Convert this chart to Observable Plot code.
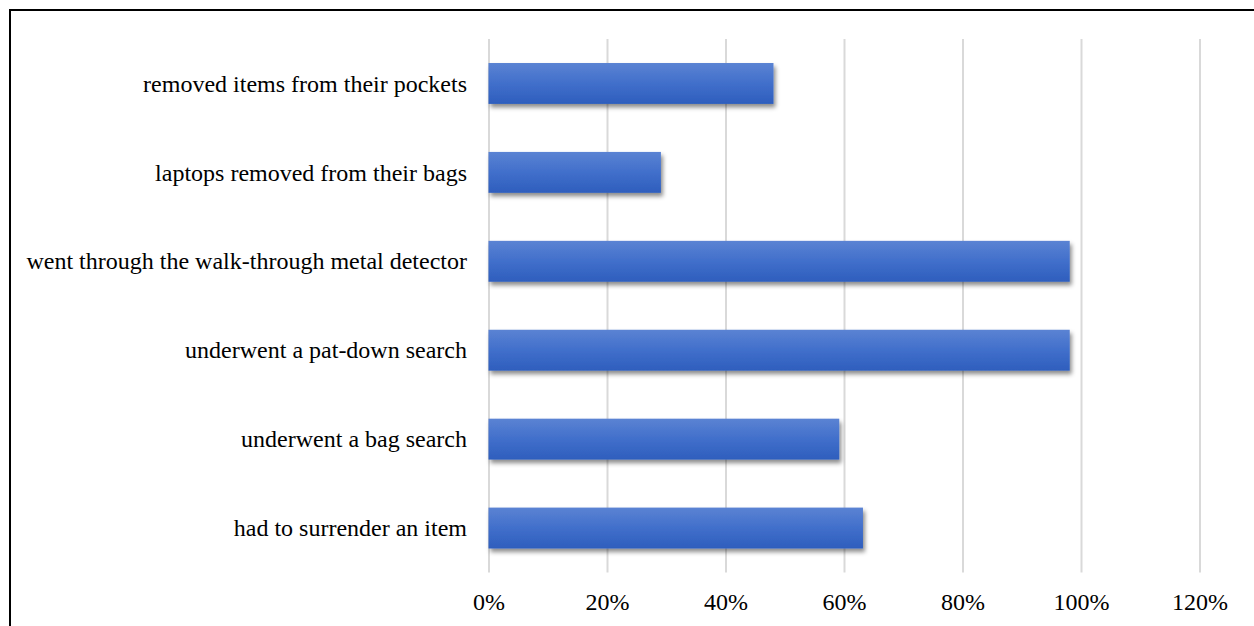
<!DOCTYPE html>
<html>
<head>
<meta charset="utf-8">
<script src="https://cdn.jsdelivr.net/npm/d3@7"></script>
<script src="https://cdn.jsdelivr.net/npm/@observablehq/plot@0.6"></script>
<style>
  html, body { margin: 0; padding: 0; background: #fff; overflow: hidden; }
  #wrap { position: relative; width: 1254px; height: 626px; }
  #frame { position: absolute; left: 9px; top: 9px; width: 1300px; height: 700px; border-left: 2px solid #000; border-top: 2px solid #000; box-sizing: border-box; pointer-events: none; }
  #chart { position: absolute; left: 0; top: 0; }
  #chart svg, #chart svg text { font-family: "Liberation Serif", "Times New Roman", serif !important; }
</style>
</head>
<body>
<div id="wrap"><div id="chart"></div><div id="frame"></div></div>
<script>
const categories = [
  "removed items from their pockets",
  "laptops removed from their bags",
  "went through the walk-through metal detector",
  "underwent a pat-down search",
  "underwent a bag search",
  "had to surrender an item"
];
const values = [0.481, 0.291, 0.981, 0.981, 0.592, 0.632];
const xTicks = [0, 0.2, 0.4, 0.6, 0.8, 1.0, 1.2];

const data = categories.map((c, i) => ({category: c, value: values[i]}));

function defs() {
  const ns = "http://www.w3.org/2000/svg";
  const d = document.createElementNS(ns, "defs");
  d.innerHTML = `
    <linearGradient id="barGrad" x1="0" y1="0" x2="0" y2="1">
      <stop offset="0%" stop-color="#5b83d3"/>
      <stop offset="50%" stop-color="#416fcb"/>
      <stop offset="100%" stop-color="#2e5ebd"/>
    </linearGradient>
    <filter id="shadow" x="-5%" y="-20%" width="115%" height="160%">
      <feDropShadow dx="2" dy="3.5" stdDeviation="2" flood-color="#000" flood-opacity="0.45"/>
    </filter>`;
  return d;
}

const plot = Plot.plot({
  width: 1254,
  height: 626,
  marginLeft: 488.5,
  marginRight: 54.5,
  marginTop: 39,
  marginBottom: 53.5,
  style: {fontFamily: "Liberation Serif, serif", fontSize: "24px", color: "#000", background: "transparent"},
  x: {domain: [0, 1.2], ticks: xTicks, tickFormat: d => Math.round(d * 100) + "%", label: null, grid: false},
  y: {domain: categories, paddingInner: 0.54, paddingOuter: 0.27, round: false, label: null},
  marks: [
    defs,
    Plot.ruleX(xTicks, {stroke: "#d9d9d9", strokeWidth: 2, strokeOpacity: 1}),
    Plot.barX(data, {x: "value", y: "category", fill: "url(#barGrad)"}),
    Plot.axisX({ticks: xTicks, tickFormat: d => Math.round(d * 100) + "%", tickSize: 0, tickPadding: 19.5, label: null, fontSize: 24}),
    Plot.axisY({tickSize: 0, tickPadding: 22, label: null, fontSize: 24})
  ]
});

plot.querySelectorAll("rect").forEach(r => {
  if (r.getAttribute("fill") === "url(#barGrad)" || (r.parentNode && r.parentNode.getAttribute("fill") === "url(#barGrad)")) {
    r.setAttribute("filter", "url(#shadow)");
  }
});
document.getElementById("chart").appendChild(plot);
</script>
</body>
</html>
